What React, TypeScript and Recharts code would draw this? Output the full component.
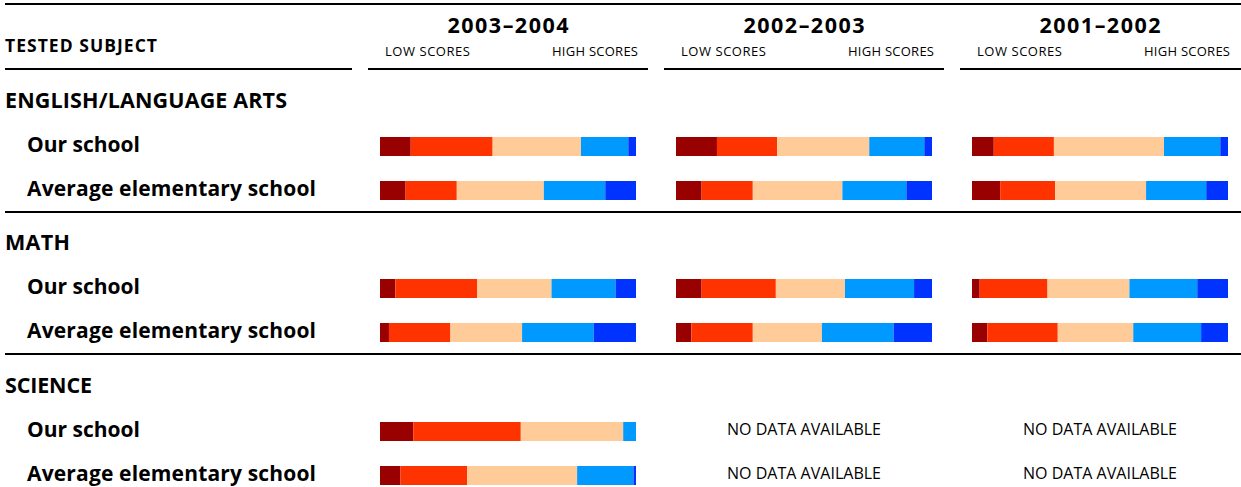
import React from "react";
import { BarChart, Bar, XAxis, YAxis } from "recharts";

// ---- data ----
const years = ["2003–2004", "2002–2003", "2001–2002"];
const subjects = ["ENGLISH/LANGUAGE ARTS", "MATH", "SCIENCE"];
const rowLabels = ["Our school", "Average elementary school"];
const levelKeys = ["farBelow", "below", "basic", "proficient", "advanced"];
const levelColors = ["#990000", "#FF3300", "#FFCC99", "#0099FF", "#0033FF"];

// percentages per year (2003–2004, 2002–2003, 2001–2002)
const elaOurSchool = [[12, 32, 34.5, 18.5, 3], [16, 23.5, 36, 21.5, 3], [8.5, 23.5, 43, 22, 3]];
const elaAverage = [[10, 20, 34, 24, 12], [10, 20, 35, 25, 10], [11, 21.5, 35.5, 23.5, 8.5]];
const mathOurSchool = [[6, 32, 29, 25, 8], [10, 29, 27, 27, 7], [3, 26.5, 32, 26.5, 12]];
const mathAverage = [[3.5, 24, 28, 28, 16.5], [6, 24, 27, 28, 15], [6, 27.5, 29.5, 26.5, 10.5]];
const scienceOurSchool = [[13, 42, 40, 5, 0], null, null];
const scienceAverage = [[8, 26, 43, 22, 1], null, null];

const subjectRows = [
  [elaOurSchool, elaAverage],
  [mathOurSchool, mathAverage],
  [scienceOurSchool, scienceAverage],
];

// ---- layout ----
const FONT = "'Open Sans', 'Noto Sans', sans-serif";
const colBarStart = [380, 676, 972];
const BAR_W = 256;
const groupTop = [123.5, 265.5, 408.5];
const groupOffset = [0, 142, 285];
const subjectLen = [282, 65, 87];
const rowLabelLen = [113, 289];

function buildRows(subjectIdx: number, yearIdx: number) {
  const [our, avg] = subjectRows[subjectIdx];
  const series = [our[yearIdx], avg[yearIdx]];
  if (!series[0] || !series[1]) return null;
  return rowLabels.map((name, r) => {
    const row: Record<string, any> = { name };
    levelKeys.forEach((k, i) => {
      row[k] = (series[r] as number[])[i];
    });
    return row;
  });
}

function GroupChart({ subjectIdx, yearIdx }: { subjectIdx: number; yearIdx: number }) {
  const data = buildRows(subjectIdx, yearIdx);
  if (!data) return null;
  return (
    <div style={{ position: "absolute", left: colBarStart[yearIdx], top: groupTop[subjectIdx] }}>
      <BarChart
        width={BAR_W}
        height={88}
        data={data}
        layout="vertical"
        margin={{ top: 0, right: 0, bottom: 0, left: 0 }}
        barCategoryGap={0}
      >
        <XAxis type="number" domain={[0, 100]} hide allowDataOverflow />
        <YAxis type="category" dataKey="name" hide />
        {levelKeys.map((k, i) => (
          <Bar key={k} dataKey={k} stackId="s" fill={levelColors[i]} barSize={19} isAnimationActive={false} />
        ))}
      </BarChart>
    </div>
  );
}

export default function App() {
  return (
    <div style={{ position: "relative", width: 1241, height: 487, background: "#fff", overflow: "hidden" }}>
      <style>{`body{margin:0;background:#fff}`}</style>
      <svg width={1241} height={487} style={{ position: "absolute", left: 0, top: 0 }} fontFamily={FONT}>
        {/* top rule */}
        <rect x={5} y={3} width={1236} height={2} fill="#000" />
        {/* header underlines */}
        <rect x={5} y={68} width={347} height={2} fill="#000" />
        <rect x={368} y={68} width={280} height={2} fill="#000" />
        <rect x={664} y={68} width={280} height={2} fill="#000" />
        <rect x={960} y={68} width={281} height={2} fill="#000" />
        {/* group separators */}
        <rect x={5} y={211} width={1236} height={2} fill="#000" />
        <rect x={5} y={353} width={1236} height={2} fill="#000" />

        <text x={5} y={52} fontSize={17.5} fontWeight={700} textLength={152} lengthAdjust="spacing">
          TESTED SUBJECT
        </text>
        {years.map((y, i) => (
          <g key={y}>
            <text
              x={colBarStart[i] + BAR_W / 2}
              y={33}
              fontSize={21.5}
              fontWeight={700}
              textAnchor="middle"
              textLength={121}
              lengthAdjust="spacing"
            >
              {y}
            </text>
            <text x={colBarStart[i] + 5} y={56} fontSize={13} textLength={85} lengthAdjust="spacing">
              LOW SCORES
            </text>
            <text
              x={colBarStart[i] + BAR_W + 2}
              y={56}
              fontSize={13}
              textAnchor="end"
              textLength={86}
              lengthAdjust="spacing"
            >
              HIGH SCORES
            </text>
          </g>
        ))}

        {subjects.map((s, si) => (
          <g key={s}>
            <text
              x={5}
              y={108.3 + groupOffset[si]}
              fontSize={21.5}
              fontWeight={700}
              textLength={subjectLen[si]}
              lengthAdjust="spacing"
            >
              {s}
            </text>
            {rowLabels.map((r, ri) => (
              <text
                key={r}
                x={27}
                y={151.7 + ri * 44 + groupOffset[si]}
                fontSize={21}
                fontWeight={700}
                textLength={rowLabelLen[ri]}
                lengthAdjust="spacing"
              >
                {r}
              </text>
            ))}
          </g>
        ))}

        {/* no data labels */}
        {[1, 2].map((yi) =>
          [0, 1].map((ri) =>
            buildRows(2, yi) === null ? (
              <text
                key={`${yi}-${ri}`}
                x={colBarStart[yi] + BAR_W / 2}
                y={434.5 + ri * 44}
                fontSize={16}
                textAnchor="middle"
                textLength={154}
                lengthAdjust="spacing"
              >
                NO DATA AVAILABLE
              </text>
            ) : null
          )
        )}
      </svg>
      {subjects.map((s, si) => years.map((y, yi) => <GroupChart key={s + y} subjectIdx={si} yearIdx={yi} />))}
    </div>
  );
}
